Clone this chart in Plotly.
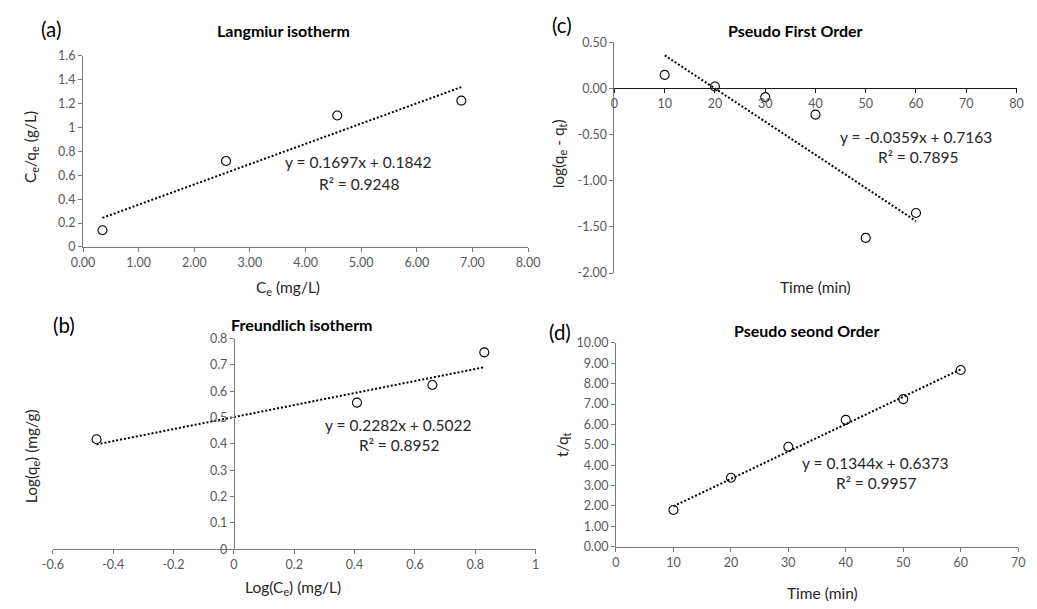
import plotly.graph_objects as go

# ---------------- data ----------------
lang_x = [0.35, 2.57, 4.57, 6.80]
lang_y = [0.14, 0.72, 1.10, 1.225]
lang_fit = [0.1697, 0.1842]
lang_eq = ["y = 0.1697x + 0.1842", "R² = 0.9248"]

freu_x = [-0.455, 0.408, 0.658, 0.830]
freu_y = [0.418, 0.557, 0.624, 0.748]
freu_fit = [0.2282, 0.5022]
freu_eq = ["y = 0.2282x + 0.5022", "R² = 0.8952"]

pfo_x = [10, 20, 30, 40, 50, 60]
pfo_y = [0.145, 0.02, -0.095, -0.285, -1.62, -1.35]
pfo_fit = [-0.0359, 0.7163]
pfo_eq = ["y = -0.0359x + 0.7163", "R² = 0.7895"]

pso_x = [10, 20, 30, 40, 50, 60]
pso_y = [1.80, 3.38, 4.90, 6.22, 7.24, 8.67]
pso_fit = [0.1344, 0.6373]
pso_eq = ["y = 0.1344x + 0.6373", "R² = 0.9957"]

# tick values / labels
a_xt = [0, 1, 2, 3, 4, 5, 6, 7, 8]
a_xl = ["0.00", "1.00", "2.00", "3.00", "4.00", "5.00", "6.00", "7.00", "8.00"]
a_yt = [0, 0.2, 0.4, 0.6, 0.8, 1.0, 1.2, 1.4, 1.6]
a_yl = ["0", "0.2", "0.4", "0.6", "0.8", "1", "1.2", "1.4", "1.6"]

b_xt = [-0.6, -0.4, -0.2, 0, 0.2, 0.4, 0.6, 0.8, 1.0]
b_xl = ["-0.6", "-0.4", "-0.2", "0", "0.2", "0.4", "0.6", "0.8", "1"]
b_yt = [0, 0.1, 0.2, 0.3, 0.4, 0.5, 0.6, 0.7, 0.8]
b_yl = ["0", "0.1", "0.2", "0.3", "0.4", "0.5", "0.6", "0.7", "0.8"]

c_xt = [0, 10, 20, 30, 40, 50, 60, 70, 80]
c_xl = ["0", "10", "20", "30", "40", "50", "60", "70", "80"]
c_yt = [-2.0, -1.5, -1.0, -0.5, 0.0, 0.5]
c_yl = ["-2.00", "-1.50", "-1.00", "-0.50", "0.00", "0.50"]

d_xt = [0, 10, 20, 30, 40, 50, 60, 70]
d_xl = ["0", "10", "20", "30", "40", "50", "60", "70"]
d_yt = [0, 1, 2, 3, 4, 5, 6, 7, 8, 9, 10]
d_yl = ["0.00", "1.00", "2.00", "3.00", "4.00", "5.00", "6.00", "7.00", "8.00", "9.00", "10.00"]

titles = ["Langmiur isotherm", "Freundlich isotherm", "Pseudo First Order", "Pseudo seond Order"]
panel_tags = ["(a)", "(b)", "(c)", "(d)"]

# ---------------- layout helpers ----------------
W, H = 1037, 609
FONT = "Lato, 'Open Sans', sans-serif"
TICKC = "#595959"
AXC = "#7a7a7a"


def fx(p):
    return p / W


def fy(p):
    return 1 - p / H


# plot boxes in pixels: (left, right, top, bottom)
box_a = (72.7, 528.3, 49.0, 245.0)
box_b = (41.8, 536.0, 339.0, 555.0)
box_c = (616.7, 1028.3, 35.0, 271.7)
box_d = (618.3, 1030.0, 343.3, 552.3)


def dom(box):
    l, r, t, b = box
    return [fx(l), fx(r)], [fy(b), fy(t)]


fig = go.Figure()


def add_series(xs, ys, fit, xa, ya):
    fig.add_trace(go.Scatter(
        x=xs, y=ys, mode="markers", xaxis=xa, yaxis=ya,
        marker=dict(symbol="circle-open", size=9, color="black", line=dict(width=1.1)),
        showlegend=False, hoverinfo="x+y"))
    x0, x1 = min(xs), max(xs)
    fig.add_trace(go.Scatter(
        x=[x0, x1], y=[fit[0] * x0 + fit[1], fit[0] * x1 + fit[1]],
        mode="lines", xaxis=xa, yaxis=ya,
        line=dict(color="black", width=2, dash="2px,2px"),
        showlegend=False, hoverinfo="skip"))


add_series(lang_x, lang_y, lang_fit, "x", "y")
add_series(freu_x, freu_y, freu_fit, "x2", "y2")
add_series(pfo_x, pfo_y, pfo_fit, "x3", "y3")
add_series(pso_x, pso_y, pso_fit, "x4", "y4")

tickfont = dict(family=FONT, size=12.5, color=TICKC)


def axis_common(tv, tl, rng, color=AXC):
    return dict(range=rng, tickmode="array", tickvals=tv, ticktext=tl,
                showline=True, linecolor=color, linewidth=1,
                ticks="outside", ticklen=4, tickcolor=color, tickwidth=1,
                showgrid=False, zeroline=False, tickfont=tickfont,
                fixedrange=True)


xa_d, ya_d = dom(box_a)
xb_d, yb_d = dom(box_b)
xc_d, yc_d = dom(box_c)
xd_d, yd_d = dom(box_d)

a_xr, a_yr = [0, 8], [0, 1.6]
b_xr, b_yr = [-0.6, 1.0], [0, 0.8]
c_xr, c_yr = [0, 80], [-2.0, 0.5]
d_xr, d_yr = [0, 70], [0, 10]

# position of crossing axes (Excel style: axis crosses at zero)
b_ypos = xb_d[0] + (0 - b_xr[0]) / (b_xr[1] - b_xr[0]) * (xb_d[1] - xb_d[0])
c_xpos = yc_d[0] + (0 - c_yr[0]) / (c_yr[1] - c_yr[0]) * (yc_d[1] - yc_d[0])

fig.update_layout(
    width=W, height=H, autosize=False,
    margin=dict(l=0, r=0, t=0, b=0),
    paper_bgcolor="white", plot_bgcolor="white",
    showlegend=False,
    font=dict(family=FONT, color="black"),
    xaxis=dict(domain=xa_d, anchor="y", **axis_common(a_xt, a_xl, a_xr)),
    yaxis=dict(domain=ya_d, anchor="x", **axis_common(a_yt, a_yl, a_yr)),
    xaxis2=dict(domain=xb_d, anchor="y2", **axis_common(b_xt, b_xl, b_xr)),
    yaxis2=dict(domain=yb_d, anchor="free", position=b_ypos, **axis_common(b_yt, b_yl, b_yr)),
    xaxis3=dict(domain=xc_d, anchor="free", position=c_xpos, **axis_common(c_xt, c_xl, c_xr, "#1a1a1a")),
    yaxis3=dict(domain=yc_d, anchor="x3", **axis_common(c_yt, c_yl, c_yr)),
    xaxis4=dict(domain=xd_d, anchor="y4", **axis_common(d_xt, d_xl, d_xr)),
    yaxis4=dict(domain=yd_d, anchor="x4", **axis_common(d_yt, d_yl, d_yr)),
)


def text(s, px, py, size, bold=False, angle=0, color="black"):
    fig.add_annotation(
        x=fx(px), y=fy(py), xref="paper", yref="paper",
        text=("<b>%s</b>" % s) if bold else s, showarrow=False,
        xanchor="center", yanchor="middle", textangle=angle,
        font=dict(family=FONT, size=size, color=color))


EQ = 15.5
AT = 15.5
TT = 16
TAG = 20.5
TXC = "#262626"

# panel (a)
text(panel_tags[0], 40, 22, TAG)
text(titles[0], 278, 23, TT, bold=True)
text(lang_eq[0], 354, 158, EQ, color=TXC)
text(lang_eq[1], 355, 180, EQ, color=TXC)
text("C<sub>e</sub> (mg/L)", 283, 287, AT, color=TXC)
text("C<sub>e</sub>/q<sub>e</sub> (g/L)", 20, 143, AT, angle=-90, color=TXC)

# panel (b)
text(panel_tags[1], 53, 325, TAG)
text(titles[1], 297, 324, TT, bold=True)
text(freu_eq[0], 395, 428, EQ, color=TXC)
text(freu_eq[1], 396, 448, EQ, color=TXC)
text("Log(C<sub>e</sub>) (mg/L)", 288, 595, AT, color=TXC)
text("Log(q<sub>e</sub>) (mg/g)", 20, 460, AT, angle=-90, color=TXC)

# panel (c)
text(panel_tags[2], 563, 17, TAG)
text(titles[2], 802, 23, TT, bold=True)
text(pfo_eq[0], 925, 132, EQ, color=TXC)
text(pfo_eq[1], 927, 153, EQ, color=TXC)
text("Time (min)", 823, 286, AT, color=TXC)
text("log(q<sub>e</sub> - q<sub>t</sub>)", 560, 150, AT, angle=-90, color=TXC)

# panel (d)
text(panel_tags[3], 561, 332, TAG)
text(titles[3], 813, 331, TT, bold=True)
text(pso_eq[0], 883, 466, EQ, color=TXC)
text(pso_eq[1], 884, 487, EQ, color=TXC)
text("Time (min)", 830, 600, AT, color=TXC)
text("t/q<sub>t</sub>", 564, 447, AT, angle=-90, color=TXC)

fig.write_html("out.html")
